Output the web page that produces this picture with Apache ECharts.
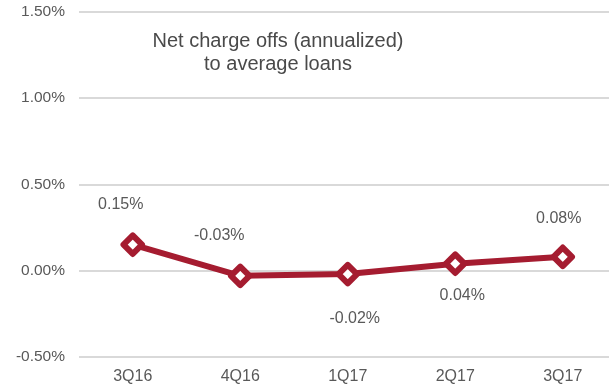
<!DOCTYPE html>
<html>
<head>
<meta charset="utf-8">
<script src="https://cdn.jsdelivr.net/npm/echarts@6/dist/echarts.min.js"></script>
<style>
  html, body { margin: 0; padding: 0; background: #ffffff; overflow: hidden; }
  #chart { width: 620px; height: 387px; }
</style>
</head>
<body>
<div id="chart"></div>
<script>
// Quarterly net charge-off ratio (annualized), in percent
const quarters = ['3Q16', '4Q16', '1Q17', '2Q17', '3Q17'];
const chargeOffs = [0.15, -0.03, -0.02, 0.04, 0.08];
const titleLines = ['Net charge offs (annualized)', 'to average loans'];

// Label placement per point: [position, dx, dy]
const labelPlacement = [
  ['top', -12, -8],
  ['top', -21, -8],
  ['bottom', 7, 12],
  ['bottom', 7, 0],
  ['top', -4, -6]
];

const textColor = '#595959';
const lineColor = '#a51c30';
const font = 'Liberation Sans, Arial, sans-serif';

const chart = echarts.init(document.getElementById('chart'), null, { renderer: 'canvas' });

chart.setOption({
  animation: false,
  grid: { left: 79, right: 3.5, top: 11.5, bottom: 30 },
  graphic: [{
    type: 'text',
    x: 278,
    y: 30,
    style: {
      text: titleLines.join('\n'),
      align: 'center',
      textAlign: 'center',
      fill: '#4a4a4a',
      font: '20px ' + font,
      lineHeight: 23
    }
  }],
  xAxis: {
    type: 'category',
    data: quarters,
    boundaryGap: true,
    axisLine: { show: false },
    axisTick: { show: false },
    axisLabel: { color: textColor, fontSize: 16, fontFamily: font, margin: 12 }
  },
  yAxis: {
    type: 'value',
    min: -0.5,
    max: 1.5,
    interval: 0.5,
    axisLine: { show: false },
    axisTick: { show: false },
    axisLabel: {
      color: textColor, fontSize: 15.5, fontFamily: font, margin: 14,
      formatter: v => v.toFixed(2) + '%'
    },
    splitLine: { lineStyle: { color: '#d9d9d9', width: 2 } }
  },
  series: [{
    type: 'line',
    data: chargeOffs.map((v, i) => ({
      value: v,
      label: {
        position: labelPlacement[i][0],
        offset: [labelPlacement[i][1], labelPlacement[i][2]]
      }
    })),
    symbol: 'diamond',
    symbolSize: 18.5,
    lineStyle: { color: lineColor, width: 6 },
    itemStyle: { color: '#ffffff', borderColor: lineColor, borderWidth: 6, borderJoin: 'round' },
    label: {
      show: true,
      distance: 12,
      color: textColor,
      fontSize: 16,
      fontFamily: font,
      formatter: p => p.value.toFixed(2) + '%'
    }
  }]
});
</script>
</body>
</html>
